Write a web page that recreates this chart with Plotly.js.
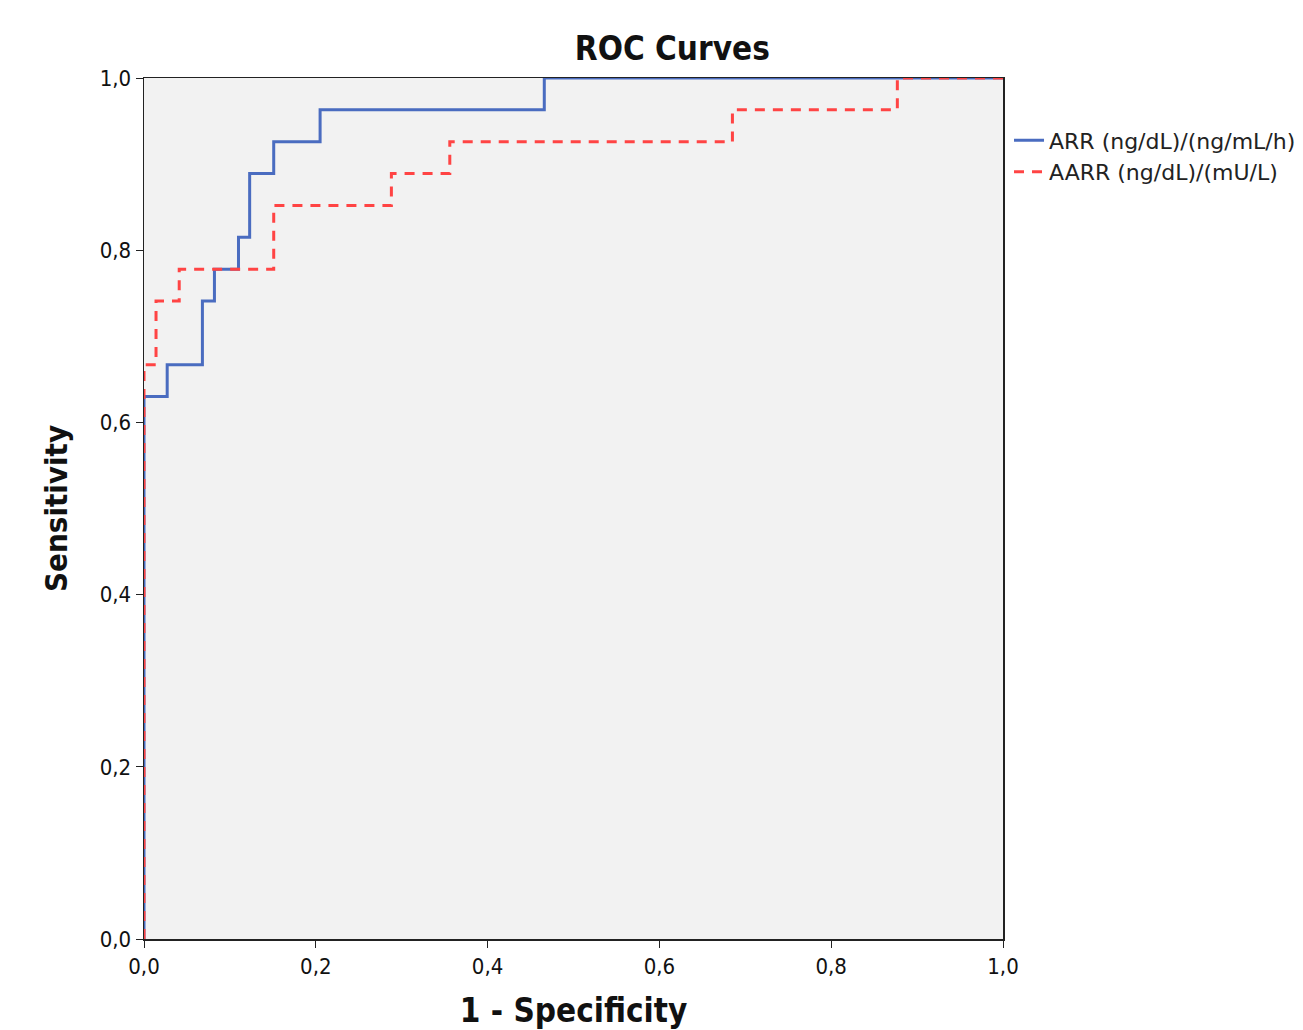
<!DOCTYPE html>
<html>
<head>
<meta charset="utf-8">
<script src="https://cdn.plot.ly/plotly-3.0.1.min.js"></script>
<style>html,body{margin:0;padding:0;background:#fff;}#chart{width:1303px;height:1030px;}</style>
</head>
<body>
<div id="chart"></div>
<script>
// ARR curve (1 - specificity, sensitivity)
const arrFpr  = [0, 0, 0.027, 0.068, 0.082, 0.110, 0.123, 0.151, 0.205, 0.466, 1];
const arrSens = [0, 0.630, 0.667, 0.741, 0.778, 0.815, 0.889, 0.926, 0.963, 1, 1];
// AARR curve
const aarrFpr  = [0, 0, 0.014, 0.041, 0.151, 0.288, 0.356, 0.685, 0.877, 1];
const aarrSens = [0, 0.667, 0.741, 0.778, 0.852, 0.889, 0.926, 0.963, 1, 1];
const seriesNames = ["ARR (ng/dL)/(ng/mL/h)", "AARR (ng/dL)/(mU/L)"];
const tickVals = [0, 0.2, 0.4, 0.6, 0.8, 1.0];

const traces = [
  {x: arrFpr, y: arrSens, name: seriesNames[0], type: 'scatter', mode: 'lines',
   line: {shape: 'hv', color: '#4a6cc0', width: 3}},
  {x: aarrFpr, y: aarrSens, name: seriesNames[1], type: 'scatter', mode: 'lines',
   line: {shape: 'hv', color: '#ff4444', width: 3, dash: '10px,8px'}}
];

const condFont = 'DejaVu Sans Condensed, DejaVu Sans';
const axisCommon = {
  range: [0, 1], tickvals: tickVals, tickformat: '.1f',
  showgrid: false, zeroline: false, showline: true, mirror: true, automargin: false,
  linecolor: '#222', linewidth: 1.5, ticks: 'outside', ticklen: 7, tickcolor: '#222',
  tickfont: {family: condFont, size: 22, color: '#111'}
};

const layout = {
  width: 1303, height: 1030,
  separators: ',.',
  margin: {l: 144, r: 300, t: 78, b: 91, autoexpand: false},
  paper_bgcolor: '#ffffff', plot_bgcolor: '#f2f2f2',
  showlegend: true,
  title: {text: 'ROC Curves', x: 0.516, xref: 'container', xanchor: 'center', y: 0.953, yanchor: 'middle',
          font: {family: condFont, size: 33, color: '#111', weight: 'bold'}},
  xaxis: Object.assign({}, axisCommon, {
    title: {text: '1 - Specificity', standoff: 23,
            font: {family: condFont, size: 33, color: '#111', weight: 'bold'}}
  }),
  yaxis: Object.assign({}, axisCommon, {
    title: {text: 'Sensitivity', standoff: 23,
            font: {family: condFont, size: 31, color: '#111', weight: 'bold'}}
  }),
  legend: {x: 1.007, xanchor: 'left', y: 0.952, yanchor: 'top', bgcolor: 'rgba(0,0,0,0)',
           borderwidth: 0, tracegroupgap: 0, itemwidth: 30,
           font: {family: 'DejaVu Sans', size: 22, color: '#222'}}
};

Plotly.newPlot('chart', traces, layout, {displayModeBar: false, staticPlot: true});
</script>
</body>
</html>
